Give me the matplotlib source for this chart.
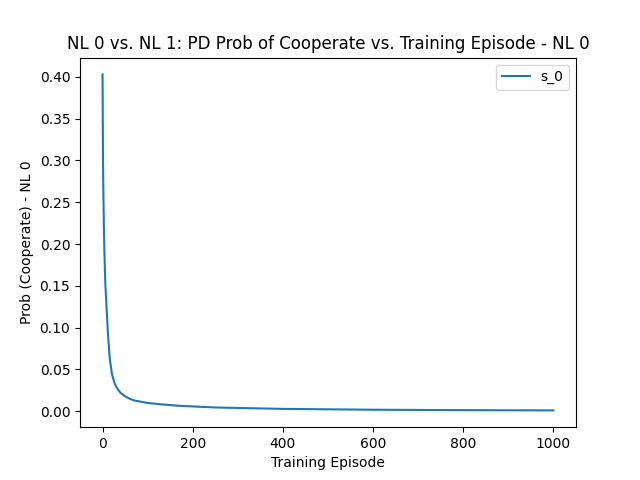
import matplotlib
matplotlib.use("Agg")
import matplotlib.pyplot as plt

# values
episodes = [0, 1, 2, 3, 4, 6, 9, 12, 16, 21, 27, 33, 40, 47, 58, 69,
            84, 99, 127, 170, 250, 400, 600, 800, 1000]
prob_coop = [0.403, 0.30, 0.255, 0.22, 0.193, 0.155, 0.123, 0.092, 0.063,
             0.044, 0.033, 0.027, 0.022, 0.019, 0.0155, 0.013, 0.0115,
             0.010, 0.0084, 0.0065, 0.0045, 0.0028, 0.0018, 0.0013, 0.001]

fig, ax = plt.subplots(figsize=(6.4, 4.8), dpi=100)
ax.plot(episodes, prob_coop, label="s_0")
ax.set_xlabel("Training Episode")
ax.set_ylabel("Prob (Cooperate) - NL 0")
ax.set_title("NL 0 vs. NL 1: PD Prob of Cooperate vs. Training Episode - NL 0")
ax.legend()

plt.savefig("out.png")
